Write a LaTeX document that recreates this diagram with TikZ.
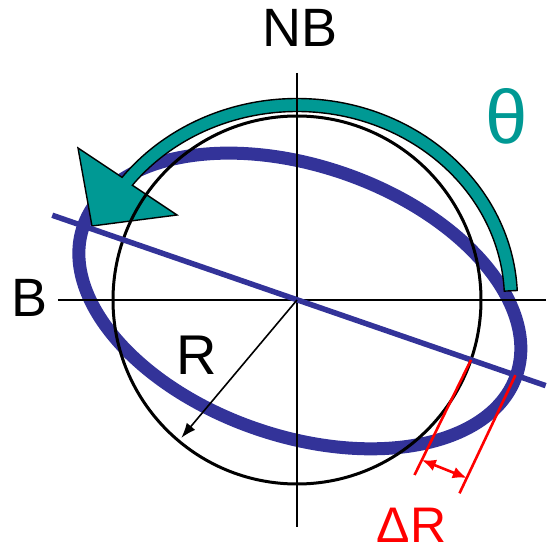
\documentclass[tikz,border=0pt]{standalone}
\usepackage{fontspec}
\setmainfont{Liberation Sans}
\usetikzlibrary{arrows.meta,calc}
\definecolor{loopblue}{RGB}{51,51,153}
\definecolor{turnteal}{RGB}{0,153,148}
\definecolor{gapred}{RGB}{255,0,0}
\tikzset{
  axisline/.style={draw,line width=1.6pt},
  biglabel/.style={inner sep=0pt,font=\fontsize{54}{60}\selectfont},
  blueloop/.style={draw=loopblue,line width=13pt},
  turnarrow/.style={fill=turnteal,draw=black,line width=1.4pt,line join=miter},
  gapline/.style={draw=gapred,line width=2.6pt},
}
\begin{document}
\begin{tikzpicture}[x=1pt,y=1pt]
\useasboundingbox (-297,-253) rectangle (250,300);

\coordinate (o) at (0,0);

% deformed loop under everything
\draw[blueloop,rotate=-19] (3,0) ellipse [x radius=229, y radius=135];

% rotation arrow
\path[turnarrow] (2.7:220.5 and 201.5)
  arc[start angle=2.7, end angle=142.5, x radius=220.5, y radius=201.5]
  -- (-219,152) -- (-205,74) -- (-120,85)
  -- (142.5:207.5 and 188.5)
  arc[start angle=142.5, end angle=2.7, x radius=207.5, y radius=188.5]
  -- cycle;

% nominal circle
\draw[line width=3pt] (o) circle [radius=184];

% axes
\coordinate (vtop) at (0,227);
\coordinate (vbot) at (0,-227);
\coordinate (hleft) at (-239,0);
\coordinate (hright) at (249,0);
\draw[axisline] (vtop) -- (vbot);
\draw[axisline] (hleft) -- (hright);

% long axis of the loop
\coordinate (lstart) at (160.9:259);
\coordinate (lend) at (-19:263);
\draw[loopblue,line width=5.5pt] (lstart) -- (lend);

% radius
\coordinate (rtip) at (230:180);
\draw[-{Latex[length=15pt,width=11pt]},line width=1.6pt] (o) -- (rtip);

% radial deviation
\coordinate (dr1) at (-19:184);
\coordinate (dr1b) at (117.5,-175);
\coordinate (dr2) at (-19:231);
\coordinate (dr2b) at (162.5,-193.3);
\draw[gapline] (dr1) -- (dr1b);
\draw[gapline] (dr2) -- (dr2b);
\draw[gapred,line width=2.6pt,{Latex[length=14pt,width=12pt]}-{Latex[length=14pt,width=12pt]}]
  ($(dr1)!0.87!(dr1b)$) -- ($(dr2)!0.87!(dr2b)$);

% labels
\node[biglabel] (nb) at (3,272.5) {NB};
\node[biglabel] (b) at (-267,2.5) {B};
\node[inner sep=0pt,font=\fontsize{76}{80}\selectfont,text=turnteal] (theta) at (209.5,184) {θ};
\node[inner sep=0pt,font=\fontsize{56}{60}\selectfont] (r) at (-100.5,-55) {R};
\node[inner sep=0pt,font=\fontsize{50}{55}\selectfont,text=gapred] (dR) at (114.5,-225.5) {ΔR};

\end{tikzpicture}
\end{document}
